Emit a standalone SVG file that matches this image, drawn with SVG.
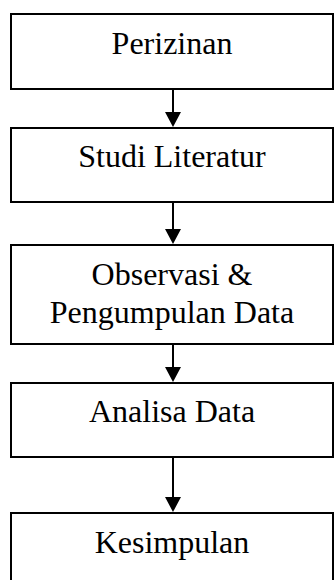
<svg xmlns="http://www.w3.org/2000/svg" width="336" height="580" viewBox="0 0 336 580">
  <style>
    .box { fill: #ffffff; stroke: #000000; stroke-width: 2; }
    .label { font-family: "Liberation Serif", "Times New Roman", serif; font-size: 32px; fill: #000000; text-anchor: middle; }
    .conn { stroke: #000000; stroke-width: 2; fill: none; marker-end: url(#head); }
  </style>
  <defs>
    <marker id="head" markerUnits="userSpaceOnUse" markerWidth="15" markerHeight="16" viewBox="0 0 15 16" refX="9" refY="8" orient="auto">
      <path d="M0,0 L15,8 L0,16 Z" fill="#000000"/>
    </marker>
  </defs>
  <rect width="336" height="580" fill="#ffffff"/>

  <g id="connectors">
    <line class="conn" x1="173" y1="89" x2="173" y2="121"/>
    <line class="conn" x1="173" y1="202" x2="173" y2="238"/>
    <line class="conn" x1="173" y1="344" x2="173" y2="376"/>
    <line class="conn" x1="173" y1="457" x2="173" y2="506"/>
  </g>

  <g id="perizinan">
    <rect class="box" x="11" y="14" width="322" height="75"/>
    <text class="label" x="172" y="54">Perizinan</text>
  </g>
  <g id="studi-literatur">
    <rect class="box" x="11" y="128" width="322" height="74"/>
    <text class="label" x="172" y="167">Studi Literatur</text>
  </g>
  <g id="observasi">
    <rect class="box" x="11" y="245" width="322" height="99"/>
    <text class="label" x="172" y="285">Observasi &amp;</text>
    <text class="label" x="172" y="323">Pengumpulan Data</text>
  </g>
  <g id="analisa-data">
    <rect class="box" x="11" y="383" width="322" height="74"/>
    <text class="label" x="172" y="422">Analisa Data</text>
  </g>
  <g id="kesimpulan">
    <rect class="box" x="11" y="513" width="322" height="80"/>
    <text class="label" x="172" y="553">Kesimpulan</text>
  </g>
</svg>
